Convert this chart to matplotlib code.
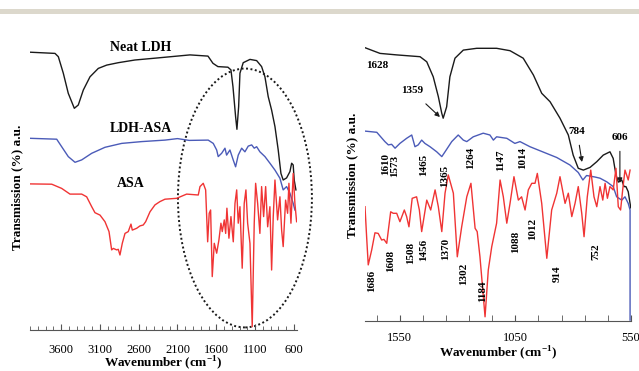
import matplotlib
matplotlib.use("Agg")
import matplotlib.pyplot as plt
from matplotlib.patches import Ellipse, Rectangle
from matplotlib.ticker import FixedLocator, MultipleLocator

plt.rcParams['font.family'] = ['Liberation Serif', 'DejaVu Serif']
plt.rcParams['mathtext.fontset'] = 'custom'
plt.rcParams['mathtext.rm'] = 'Liberation Serif'
plt.rcParams['mathtext.bf'] = 'Liberation Serif:bold'

# ---------------- Left panel: full spectra (4000-560 cm-1) ----------------
neat_wn = [4000, 3678, 3635, 3571, 3507, 3429, 3378, 3313, 3227, 3120, 3012, 2863, 2648, 2351,
           1939, 1707, 1643, 1579, 1450, 1411, 1385, 1351, 1334, 1312, 1295, 1253, 1166, 1080,
           1016, 973, 931, 887, 844, 802, 767, 738, 694, 651, 629, 609, 596, 574]
neat_t = [92.6, 92.2, 91.1, 85.6, 78.9, 73.9, 75.0, 80.0, 84.4, 87.2, 88.3, 89.1, 90.0, 90.7,
          91.7, 91.3, 88.9, 87.8, 87.6, 86.7, 81.1, 71.1, 66.9, 74.4, 85.6, 89.1, 90.2, 89.8,
          87.8, 84.4, 77.8, 73.3, 67.8, 60.0, 52.2, 50.0, 50.7, 52.8, 55.6, 55.0, 50.0, 46.7]

ldhasa_wn = [4000, 3656, 3592, 3507, 3420, 3334, 3205, 3034, 2819, 2561, 2261, 2100, 1950, 1704,
             1639, 1595, 1575, 1531, 1488, 1467, 1424, 1382, 1351, 1317, 1273, 1231, 1188, 1144,
             1111, 1080, 1038, 973, 909, 844, 780, 738, 694, 651, 609, 587]
ldhasa_t = [63.9, 63.6, 61.1, 57.8, 55.9, 56.7, 58.9, 60.9, 62.2, 62.8, 63.3, 63.8, 63.2, 63.3,
            62.2, 60.0, 57.8, 58.9, 60.6, 58.3, 60.0, 56.7, 54.4, 58.3, 60.6, 59.4, 61.3, 61.7,
            60.6, 61.1, 59.4, 57.8, 55.6, 53.3, 50.6, 46.7, 47.8, 45.6, 42.2, 40.0]

asa_wn = [4000, 3720, 3592, 3485, 3334, 3270, 3205, 3163, 3098, 3034, 2982, 2948, 2927, 2883,
          2863, 2841, 2811, 2776, 2734, 2699, 2682, 2626, 2583, 2541, 2510, 2454, 2390, 2326,
          2261, 2110, 1982, 1832, 1810, 1768, 1737, 1711, 1691, 1673, 1652, 1626, 1595, 1566,
          1540, 1523, 1497, 1479, 1463, 1437, 1411, 1381, 1359, 1337, 1317, 1295, 1266, 1240,
          1218, 1196, 1166, 1137, 1111, 1093, 1067, 1038, 1016, 990, 964, 938, 909, 887, 866,
          844, 810, 780, 758, 738, 707, 681, 664, 638, 609, 587, 565]
asa_t = [48.7, 48.6, 47.2, 45.3, 45.3, 44.4, 41.1, 39.1, 38.3, 36.1, 32.8, 26.7, 27.2, 26.7,
         26.9, 25.0, 28.9, 32.2, 32.8, 35.3, 33.3, 33.9, 34.7, 35.0, 36.1, 39.4, 41.7, 42.8,
         43.6, 43.9, 45.3, 45.0, 47.8, 48.9, 46.7, 29.4, 38.9, 40.0, 17.8, 28.9, 25.6, 30.0,
         35.6, 32.8, 36.7, 32.2, 40.6, 30.6, 37.8, 29.4, 42.2, 46.7, 35.6, 41.1, 20.6, 42.2,
         46.7, 35.6, 28.9, 1.1, 35.6, 48.9, 42.2, 32.2, 47.8, 37.8, 47.8, 34.4, 41.1, 20.0, 37.8,
         50.0, 36.7, 44.4, 33.3, 27.8, 43.3, 38.9, 48.9, 35.6, 52.2, 42.2, 36.1]

left_ticks = [3600, 3100, 2600, 2100, 1600, 1100, 600]

# ---------------- Right panel: zoom 1700-550 cm-1 ----------------
rneat_wn = [1700, 1635, 1563, 1462, 1433, 1405, 1383, 1368, 1362, 1347, 1333, 1311, 1275, 1217,
            1131, 1073, 1016, 972, 936, 900, 857, 821, 800, 778, 756, 727, 698, 670, 641, 627,
            615, 605, 590, 580, 572, 562, 551]
rneat_t = [91.1, 89.2, 88.7, 88.1, 86.4, 81.4, 74.8, 69.2, 67.6, 71.4, 81.4, 87.6, 90.3, 90.9,
           90.9, 90.1, 87.6, 82.0, 75.9, 73.1, 67.6, 62.0, 55.3, 50.9, 50.3, 51.2, 53.1, 55.3,
           56.4, 54.2, 48.7, 46.3, 47.0, 44.8, 44.8, 43.1, 37.7]

rldh_wn = [1700, 1649, 1614, 1599, 1585, 1570, 1549, 1520, 1498, 1484, 1470, 1455, 1441, 1419,
           1390, 1368, 1354, 1325, 1297, 1275, 1260, 1232, 1189, 1160, 1145, 1131, 1087, 1052,
           1030, 987, 929, 871, 814, 778, 758, 742, 706, 684, 655, 627, 612, 590, 576, 562,
           554, 554]
rldh_t = [63.3, 62.9, 59.8, 58.7, 58.9, 57.6, 59.2, 60.9, 62.0, 58.1, 58.7, 60.3, 59.2, 58.1,
          56.4, 54.8, 56.4, 59.8, 62.0, 60.3, 59.8, 61.4, 62.6, 62.0, 60.3, 61.4, 60.9, 59.2,
          59.8, 58.1, 56.3, 54.5, 52.0, 49.5, 47.0, 48.5, 48.0, 47.6, 46.4, 44.8, 41.4, 40.3,
          41.4, 39.2, 37.0, 0.3]

rasa_wn = [1700, 1693, 1686, 1671, 1657, 1643, 1628, 1618, 1606, 1599, 1589, 1578, 1563, 1549,
           1530, 1520, 1510, 1496, 1477, 1465, 1455, 1433, 1416, 1397, 1383, 1368, 1354, 1340,
           1318, 1301, 1282, 1260, 1242, 1224, 1215, 1203, 1181, 1167, 1152, 1131, 1116, 1102,
           1087, 1073, 1056, 1037, 1023, 1008, 994, 979, 965, 955, 936, 914, 893, 871, 857, 835,
           821, 806, 792, 778, 763, 753, 739, 724, 710, 698, 684, 672, 662, 652, 641, 627, 615,
           605, 595, 586, 576, 569, 562, 554]
rasa_t = [38.1, 28.1, 18.7, 23.7, 29.4, 29.2, 27.0, 27.2, 25.9, 30.3, 36.4, 35.9, 35.9, 33.1,
          37.0, 34.8, 31.4, 40.9, 41.4, 37.0, 29.8, 40.3, 37.0, 43.7, 38.1, 29.8, 42.6, 48.7,
          42.6, 21.4, 31.4, 41.4, 45.9, 30.9, 29.8, 21.4, 1.4, 17.0, 24.8, 32.6, 47.0, 41.4,
          32.6, 39.2, 48.1, 40.3, 41.4, 37.0, 43.7, 45.9, 45.9, 49.2, 39.2, 20.9, 37.0, 42.6,
          48.1, 39.2, 42.6, 34.8, 39.2, 44.8, 35.9, 28.1, 41.4, 50.3, 41.4, 38.1, 44.8, 40.3,
          45.9, 40.9, 44.8, 43.7, 50.9, 38.1, 37.0, 43.7, 50.3, 48.7, 47.0, 50.3]

right_ticks = [1550, 1050, 550]

blue_labels = ["1610", "1573", "1465", "1365", "1264", "1147", "1014"]
blue_label_pos = [(1609, 52.3), (1573, 51.7), (1447, 52.0), (1354, 48.3), (1242, 54.3),
                  (1112, 53.7), (1017, 54.3)]
red_labels = ["1686", "1608", "1508", "1456", "1370", "1302", "1184", "1088", "1012", "914", "752"]
red_label_pos = [(1670, 13.3), (1588, 20.0), (1501, 22.7), (1445, 23.7), (1350, 24.0),
                 (1272, 15.7), (1190, 10.0), (1047, 26.3), (974, 30.7), (870, 15.7), (701, 23.0)]

BLACK = '#1a1a1a'
BLUE = '#4b5bb8'
RED = '#f03434'

W, H = 639, 371
fig = plt.figure(figsize=(W / 100, H / 100), dpi=100)
fig.patches.append(Rectangle((0, 1 - 13.5 / H), 1, 4.5 / H, transform=fig.transFigure,
                             facecolor='#dcd8cc', edgecolor='none'))

axL = fig.add_axes([30 / W, (H - 330) / H, 267 / W, 300 / H])
axR = fig.add_axes([365 / W, (H - 321) / H, 266 / W, 300 / H])

lw = 1.0
axL.plot(neat_wn, neat_t, color=BLACK, lw=lw)
axL.plot(ldhasa_wn, ldhasa_t, color=BLUE, lw=lw)
axL.plot(asa_wn, asa_t, color=RED, lw=lw)
axL.set_xlim(4000, 560)

axR.plot(rneat_wn, rneat_t, color=BLACK, lw=lw)
axR.plot(rldh_wn, rldh_t, color=BLUE, lw=lw)
axR.plot(rasa_wn, rasa_t, color=RED, lw=lw)
axR.set_xlim(1700, 550)

for ax in (axL, axR):
    ax.set_ylim(0, 100)
    for s in ('top', 'right', 'left'):
        ax.spines[s].set_visible(False)
    ax.spines['bottom'].set_color('#555555')
    ax.spines['bottom'].set_linewidth(0.8)
    ax.set_yticks([])
    ax.set_facecolor('none')
    ax.tick_params(axis='x', which='both', direction='in', color='#555555', labelsize=9)
    ax.set_xlabel(r'Wavenumber (cm$^{\mathbf{-1}}$)', fontsize=9.5, fontweight='bold')
    ax.xaxis.label.set_va('center')

axL.xaxis.set_major_locator(FixedLocator(left_ticks))
axL.xaxis.set_minor_locator(MultipleLocator(100))
axL.tick_params(axis='x', which='major', length=4, pad=10)
axL.tick_params(axis='x', which='minor', length=3)
axL.xaxis.set_label_coords(0.5, -0.112)

axR.xaxis.set_major_locator(FixedLocator(right_ticks))
axR.xaxis.set_minor_locator(FixedLocator([1650, 1450, 1350, 1250, 1150, 950, 850, 750, 650]))
axR.tick_params(axis='x', which='major', length=4, pad=8)
axR.tick_params(axis='x', which='minor', length=4)
axR.xaxis.set_label_coords(0.5, -0.108)

fig.text(17 / W, 1 - 187 / H, 'Transmission (%) a.u.', rotation=90, ha='center', va='center',
         fontsize=9.5, fontweight='bold')
fig.text(352 / W, 1 - 175 / H, 'Transmission (%) a.u.', rotation=90, ha='center', va='center',
         fontsize=9.5, fontweight='bold')

# left panel labels and ellipse
axL.text(2570, 94.3, 'Neat LDH', ha='center', va='center', fontsize=10, fontweight='bold')
axL.text(2570, 67.3, 'LDH-ASA', ha='center', va='center', fontsize=10, fontweight='bold')
axL.text(2699, 48.7, 'ASA', ha='center', va='center', fontsize=10, fontweight='bold')
axL.add_patch(Ellipse((1231, 44), 1726, 86.3, fill=False, edgecolor=BLACK, lw=1.4,
                      linestyle=(0, (1, 1.3)), clip_on=False))

# right panel labels
tkw = dict(fontsize=8, fontweight='bold', ha='center', va='center')
for s, (x, y) in zip(blue_labels, blue_label_pos):
    axR.text(x, y, s, rotation=90, **tkw)
for s, (x, y) in zip(red_labels, red_label_pos):
    axR.text(x, y, s, rotation=90, **tkw)
axR.text(1648, 85.0, '1628', **tkw)
axR.annotate('1359', xy=(1376, 68), xytext=(1497, 76.7), ha='center', va='center',
             fontsize=8, fontweight='bold',
             arrowprops=dict(arrowstyle='-|>', color=BLACK, lw=0.8, mutation_scale=7,
                             shrinkA=6, shrinkB=0))
axR.annotate('784', xy=(762, 53), xytext=(783, 63.3), ha='center', va='center',
             fontsize=8, fontweight='bold',
             arrowprops=dict(arrowstyle='-|>', color=BLACK, lw=0.8, mutation_scale=7,
                             shrinkA=5, shrinkB=0))
axR.annotate('606', xy=(598, 46), xytext=(598, 61.3), ha='center', va='center',
             fontsize=8, fontweight='bold',
             arrowprops=dict(arrowstyle='-|>', color=BLACK, lw=0.8, mutation_scale=7,
                             shrinkA=5, shrinkB=0))

fig.savefig('out.png', dpi=100)
